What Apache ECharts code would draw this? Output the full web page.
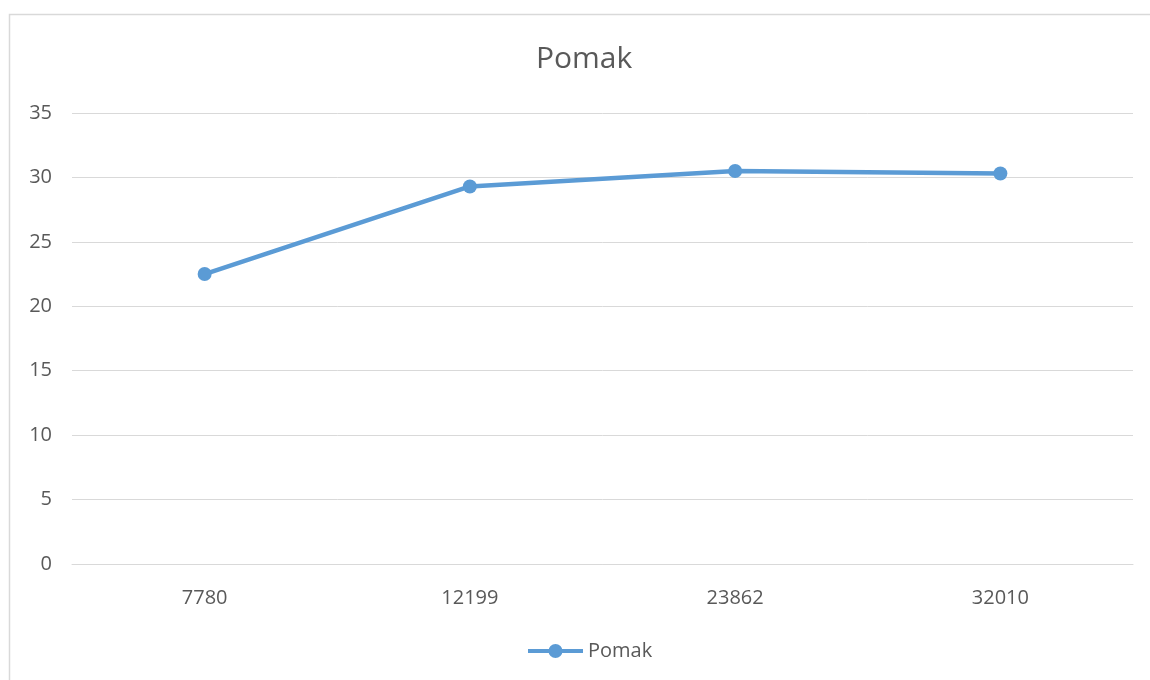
<!DOCTYPE html>
<html>
<head>
<meta charset="utf-8">
<script src="https://cdn.jsdelivr.net/npm/echarts@6/dist/echarts.min.js"></script>
<style>
  html, body { margin: 0; padding: 0; background: #ffffff; }
  #chart { width: 1150px; height: 680px; }
</style>
</head>
<body>
<div id="chart"></div>
<script>
// Category labels along the x axis
const categories = ['7780', '12199', '23862', '32010'];
// Series values
const seriesName = 'Pomak';
const pomakValues = [22.5, 29.3, 30.5, 30.3];
// Value axis range
const yMin = 0;
const yMax = 35;
const yStep = 5;

const textColor = '#595959';
const gridColor = '#D9D9D9';
const lineColor = '#5B9BD5';
const fontFamily = '"Open Sans", "Noto Sans", sans-serif';

// Legend key: thick line segment with a round marker in the middle
const legendIcon = 'path://M0,5 L21,5 L21,9 L0,9 Z M34,5 L55,5 L55,9 L34,9 Z ' +
                   'M20.5,7 A7,7 0 1,1 34.5,7 A7,7 0 1,1 20.5,7 Z';

const chart = echarts.init(document.getElementById('chart'));
chart.setOption({
  backgroundColor: '#ffffff',
  animation: false,
  graphic: [{
    type: 'rect',
    left: 7, top: 12,
    shape: { width: 1160, height: 700 },
    style: { fill: 'none', stroke: gridColor, lineWidth: 1.5 },
    silent: true,
    z: -1
  }],
  title: {
    text: 'Pomak',
    left: 531,
    top: 39,
    textStyle: { color: textColor, fontFamily: fontFamily, fontSize: 30, fontWeight: 'normal' }
  },
  legend: {
    data: [{ name: seriesName, icon: legendIcon }],
    top: 636,
    left: 523,
    itemWidth: 55,
    itemHeight: 14,
    itemGap: 10,
    textStyle: { color: textColor, fontFamily: fontFamily, fontSize: 20 }
  },
  grid: { left: 72, right: 17, top: 113, bottom: 116, containLabel: false },
  xAxis: {
    type: 'category',
    data: categories,
    boundaryGap: true,
    axisLine: { show: true, lineStyle: { color: gridColor, width: 1 } },
    axisTick: { show: false },
    axisLabel: { color: textColor, fontFamily: fontFamily, fontSize: 20, margin: 24 }
  },
  yAxis: {
    type: 'value',
    min: yMin,
    max: yMax,
    interval: yStep,
    axisLine: { show: false },
    axisTick: { show: false },
    axisLabel: { color: textColor, fontFamily: fontFamily, fontSize: 20, margin: 20 },
    splitLine: { lineStyle: { color: gridColor, width: 1 } }
  },
  series: [{
    name: seriesName,
    type: 'line',
    data: pomakValues,
    symbol: 'circle',
    symbolSize: 14,
    lineStyle: { color: lineColor, width: 4.5 },
    itemStyle: { color: lineColor }
  }]
});
</script>
</body>
</html>
